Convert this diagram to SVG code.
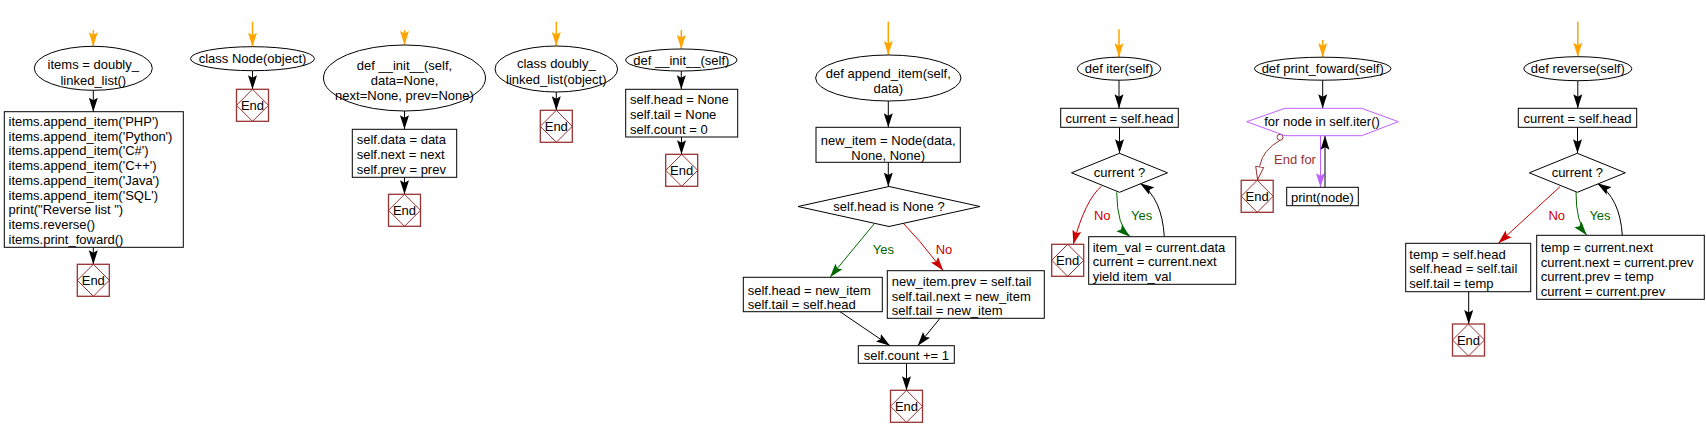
<svg xmlns="http://www.w3.org/2000/svg" width="1706" height="438" viewBox="0 0 1706 438">
<style>
text{font-family:"Liberation Sans",Arial,sans-serif;font-size:13px;fill:#000}
.c{text-anchor:middle}
.sh{fill:#fff;stroke:#000;stroke-width:1}
.hex{fill:#fff;stroke:#c060ff;stroke-width:1}
.endb{fill:#fff;stroke:#993333;stroke-width:1.3}
.endd{fill:none;stroke:#993333;stroke-width:1}
.blk{fill:none;stroke:#000;stroke-width:1;marker-end:url(#ab)}
.org{fill:none;stroke:#ffa500;stroke-width:1.5;marker-end:url(#ao)}
.grn{fill:none;stroke:#006600;stroke-width:1;marker-end:url(#ag)}
.red{fill:none;stroke:#cc0000;stroke-width:1;marker-end:url(#ar)}
.pur{fill:none;stroke:#c060ff;stroke-width:1;marker-end:url(#ap)}
.dr{fill:none;stroke:#993333;stroke-width:1;marker-end:url(#ah)}
.lg{fill:#006600}
.lr{fill:#cc0000}
.ld{fill:#993333}
</style>
<defs>
<marker id="ab" markerUnits="userSpaceOnUse" markerWidth="14" markerHeight="10" refX="14" refY="5" orient="auto"><path d="M0,0.5 L14,5 L0,9.5 L2.5,5 z" fill="#000"/></marker>
<marker id="ao" markerUnits="userSpaceOnUse" markerWidth="14" markerHeight="10" refX="14" refY="5" orient="auto"><path d="M0,0.5 L14,5 L0,9.5 L2.5,5 z" fill="#ffa500"/></marker>
<marker id="ag" markerUnits="userSpaceOnUse" markerWidth="14" markerHeight="10" refX="14" refY="5" orient="auto"><path d="M0,0.5 L14,5 L0,9.5 L2.5,5 z" fill="#006600"/></marker>
<marker id="ar" markerUnits="userSpaceOnUse" markerWidth="14" markerHeight="10" refX="14" refY="5" orient="auto"><path d="M0,0.5 L14,5 L0,9.5 L2.5,5 z" fill="#cc0000"/></marker>
<marker id="ap" markerUnits="userSpaceOnUse" markerWidth="14" markerHeight="10" refX="14" refY="5" orient="auto"><path d="M0,0.5 L14,5 L0,9.5 L2.5,5 z" fill="#c060ff"/></marker>
<marker id="ah" markerUnits="userSpaceOnUse" markerWidth="14" markerHeight="10" refX="14" refY="5" orient="auto"><path d="M0.5,1 L13.5,5 L0.5,9 z" fill="#fff" stroke="#993333" stroke-width="1"/></marker>
<g id="endsym"><rect class="endb" x="0" y="0" width="32" height="32"/><path class="endd" d="M16,0 L32,16 L16,32 L0,16 z"/><text class="c" x="16" y="20.5">End</text></g>
</defs>

<g id="connectors">
<path class="org" d="M93.3,30 L93.3,46.3"/>
<path class="blk" d="M93.3,90.3 L93.3,111.7"/>
<path class="blk" d="M93.3,247.3 L93.3,264.3"/>
<path class="org" d="M252.5,21.7 L252.5,46.7"/>
<path class="blk" d="M252.5,70.7 L252.5,89.3"/>
<path class="org" d="M404.5,30 L404.5,45"/>
<path class="blk" d="M404.5,111 L404.5,129.3"/>
<path class="blk" d="M404.5,177.3 L404.5,194.3"/>
<path class="org" d="M556.3,21.7 L556.3,46"/>
<path class="blk" d="M556.3,92 L556.3,110.3"/>
<path class="org" d="M681.3,30 L681.3,49"/>
<path class="blk" d="M681.3,71 L681.3,89.3"/>
<path class="blk" d="M681.5,137 L681.5,154.3"/>
<path class="org" d="M888.3,21.7 L888.3,55"/>
<path class="blk" d="M888.3,101 L888.3,127.3"/>
<path class="blk" d="M888.3,162.3 L888.3,186.5"/>
<path class="grn" d="M874,224 L830,277.3"/>
<path class="red" d="M903.3,223.3 L920,241.7 L943.3,270.7"/>
<path class="blk" d="M840,311.7 L890,345.7"/>
<path class="blk" d="M940,318.3 L917.7,345.7"/>
<path class="blk" d="M906.5,363.3 L906.5,390.3"/>
<path class="org" d="M1119,29.3 L1119,57.2"/>
<path class="blk" d="M1119,80.2 L1119,108.3"/>
<path class="blk" d="M1119.5,127.3 L1119.5,153.3"/>
<path class="red" d="M1101.7,186 Q1085,200 1073.3,244.3"/>
<path class="grn" d="M1116.7,192.3 Q1117,226 1130,236.7"/>
<path class="blk" d="M1164.3,236.7 Q1162,198 1140,183.3"/>
<path class="org" d="M1322.7,40 L1322.7,57.2"/>
<path class="blk" d="M1322.7,80.2 L1322.7,108.3"/>
<path class="pur" d="M1320.5,135.7 L1320.5,187.3"/>
<path class="blk" d="M1325,187.3 L1325,135.7"/>
<path class="dr" d="M1280,140.3 Q1263,150 1260,165 L1257.5,180.3"/>
<circle cx="1280" cy="137.3" r="3" fill="#fff" stroke="#993333" stroke-width="1"/>
<path class="org" d="M1577.8,21.7 L1577.8,56.7"/>
<path class="blk" d="M1577.8,80.7 L1577.8,108.3"/>
<path class="blk" d="M1577.5,127.3 L1577.5,153.3"/>
<path class="red" d="M1560,186.7 L1498.3,243.3"/>
<path class="grn" d="M1576,192.3 Q1576,222 1586.7,235.3"/>
<path class="blk" d="M1622.3,235.3 Q1620,198 1597.3,183.3"/>
<path class="blk" d="M1468.7,291.7 L1468.7,324"/>
</g>

<g id="labels">
<text class="c lg" x="883.3" y="253.8">Yes</text>
<text class="c lr" x="944" y="253.8">No</text>
<text class="c lr" x="1102.3" y="220">No</text>
<text class="c lg" x="1141.7" y="220">Yes</text>
<text class="c ld" x="1295" y="163.8">End for</text>
<text class="c lr" x="1556.7" y="220">No</text>
<text class="c lg" x="1600" y="220">Yes</text>
</g>

<g id="n1_start"><ellipse class="sh" cx="93.3" cy="68.3" rx="59" ry="22"/><text class="c" x="93.3" y="69">items = doubly_</text><text class="c" x="93.3" y="84.5">linked_list()</text></g>
<g id="n1_box"><rect class="sh" x="4.3" y="111.7" width="179" height="135.6"/>
<text x="8.5" y="126">items.append_item('PHP')</text>
<text x="8.5" y="140.7">items.append_item('Python')</text>
<text x="8.5" y="155.4">items.append_item('C#')</text>
<text x="8.5" y="170.1">items.append_item('C++')</text>
<text x="8.5" y="184.8">items.append_item('Java')</text>
<text x="8.5" y="199.5">items.append_item('SQL')</text>
<text x="8.5" y="214.2">print("Reverse list ")</text>
<text x="8.5" y="228.9">items.reverse()</text>
<text x="8.5" y="243.6">items.print_foward()</text></g>
<g id="n1_end"><use href="#endsym" x="77.3" y="264.3"/></g>

<g id="n2_start"><ellipse class="sh" cx="252.5" cy="58.7" rx="62" ry="12"/><text class="c" x="252.5" y="63.2">class Node(object)</text></g>
<g id="n2_end"><use href="#endsym" x="236.5" y="89.3"/></g>

<g id="n3_start"><ellipse class="sh" cx="404.5" cy="78" rx="81" ry="33"/><text class="c" x="404.5" y="70.2">def __init__(self,</text><text class="c" x="404.5" y="84.5">data=None,</text><text class="c" x="404.5" y="99.5">next=None, prev=None)</text></g>
<g id="n3_box"><rect class="sh" x="352.3" y="129.3" width="104.4" height="48"/><text x="356.7" y="143.8">self.data = data</text><text x="356.7" y="158.8">self.next = next</text><text x="356.7" y="173.8">self.prev = prev</text></g>
<g id="n3_end"><use href="#endsym" x="388.5" y="194.3"/></g>

<g id="n4_start"><ellipse class="sh" cx="556.3" cy="69" rx="61.3" ry="23"/><text class="c" x="556.3" y="67.8">class doubly_</text><text class="c" x="556.3" y="83.5">linked_list(object)</text></g>
<g id="n4_end"><use href="#endsym" x="540.3" y="110.3"/></g>

<g id="n5_start"><ellipse class="sh" cx="681.3" cy="60" rx="55.7" ry="11"/><text class="c" x="681.3" y="64.5">def __init__(self)</text></g>
<g id="n5_box"><rect class="sh" x="625.7" y="89.3" width="112" height="47.7"/><text x="630" y="103.8">self.head = None</text><text x="630" y="118.8">self.tail = None</text><text x="630" y="133.5">self.count = 0</text></g>
<g id="n5_end"><use href="#endsym" x="665.7" y="154.3"/></g>

<g id="n6_start"><ellipse class="sh" cx="888.3" cy="78" rx="72.7" ry="23"/><text class="c" x="888.3" y="77.8">def append_item(self,</text><text class="c" x="888.3" y="92.8">data)</text></g>
<g id="n6_new"><rect class="sh" x="816" y="127.3" width="144.3" height="35"/><text class="c" x="888.2" y="144.5">new_item = Node(data,</text><text class="c" x="888.2" y="159.5">None, None)</text></g>
<g id="n6_if"><path class="sh" d="M798,206.5 L889,186.5 L980,206.5 L889,226.5 z"/><text class="c" x="889" y="211">self.head is None ?</text></g>
<g id="n6_yes"><rect class="sh" x="743.3" y="277.3" width="139" height="34.4"/><text x="747.7" y="294.5">self.head = new_item</text><text x="747.7" y="308.5">self.tail = self.head</text></g>
<g id="n6_no"><rect class="sh" x="887.3" y="270.7" width="157" height="47.6"/><text x="891.7" y="286.2">new_item.prev = self.tail</text><text x="891.7" y="300.5">self.tail.next = new_item</text><text x="891.7" y="315.2">self.tail = new_item</text></g>
<g id="n6_count"><rect class="sh" x="858.3" y="345.7" width="96" height="17.6"/><text class="c" x="906.3" y="359.6">self.count += 1</text></g>
<g id="n6_end"><use href="#endsym" x="890.5" y="390.3"/></g>

<g id="n7_start"><ellipse class="sh" cx="1119" cy="68.7" rx="41.7" ry="11.5"/><text class="c" x="1119" y="73.2">def iter(self)</text></g>
<g id="n7_cur"><rect class="sh" x="1060.7" y="108.3" width="117.6" height="19"/><text class="c" x="1119.5" y="123.3">current = self.head</text></g>
<g id="n7_if"><path class="sh" d="M1071.5,172.8 L1119.5,153.3 L1167.5,172.8 L1119.5,192.3 z"/><text class="c" x="1119.5" y="177.3">current ?</text></g>
<g id="n7_end"><use href="#endsym" x="1051.7" y="244.3"/></g>
<g id="n7_body"><rect class="sh" x="1088.7" y="236.7" width="147" height="47.6"/><text x="1092.7" y="252.2">item_val = current.data</text><text x="1092.7" y="266.2">current = current.next</text><text x="1092.7" y="280.8">yield item_val</text></g>

<g id="n8_start"><ellipse class="sh" cx="1322.7" cy="68.7" rx="68.3" ry="11.5"/><text class="c" x="1322.7" y="73.2">def print_foward(self)</text></g>
<g id="n8_for"><path class="hex" d="M1246.7,121.7 L1285,108.3 L1361.7,108.3 L1398.3,121.7 L1361.7,135.7 L1285,135.7 z"/><text class="c" x="1322" y="126.2">for node in self.iter()</text></g>
<g id="n8_print"><rect class="sh" x="1286.7" y="187.3" width="71.6" height="18.4"/><text class="c" x="1322.5" y="201.5">print(node)</text></g>
<g id="n8_end"><use href="#endsym" x="1241.2" y="180.3"/></g>

<g id="n9_start"><ellipse class="sh" cx="1577.8" cy="68.7" rx="54" ry="12"/><text class="c" x="1577.8" y="73.2">def reverse(self)</text></g>
<g id="n9_cur"><rect class="sh" x="1518.3" y="108.3" width="118.4" height="19"/><text class="c" x="1577.5" y="123.3">current = self.head</text></g>
<g id="n9_if"><path class="sh" d="M1529.3,172.8 L1577.3,153.3 L1625.3,172.8 L1577.3,192.3 z"/><text class="c" x="1577.3" y="177.3">current ?</text></g>
<g id="n9_no"><rect class="sh" x="1405.7" y="243.3" width="125" height="48.4"/><text x="1409.3" y="258.5">temp = self.head</text><text x="1409.3" y="272.8">self.head = self.tail</text><text x="1409.3" y="287.8">self.tail = temp</text></g>
<g id="n9_yes"><rect class="sh" x="1536.7" y="235.3" width="167.6" height="64"/><text x="1540.7" y="252.2">temp = current.next</text><text x="1540.7" y="266.5">current.next = current.prev</text><text x="1540.7" y="281.2">current.prev = temp</text><text x="1540.7" y="296.2">current = current.prev</text></g>
<g id="n9_end"><use href="#endsym" x="1452.5" y="324"/></g>
</svg>
